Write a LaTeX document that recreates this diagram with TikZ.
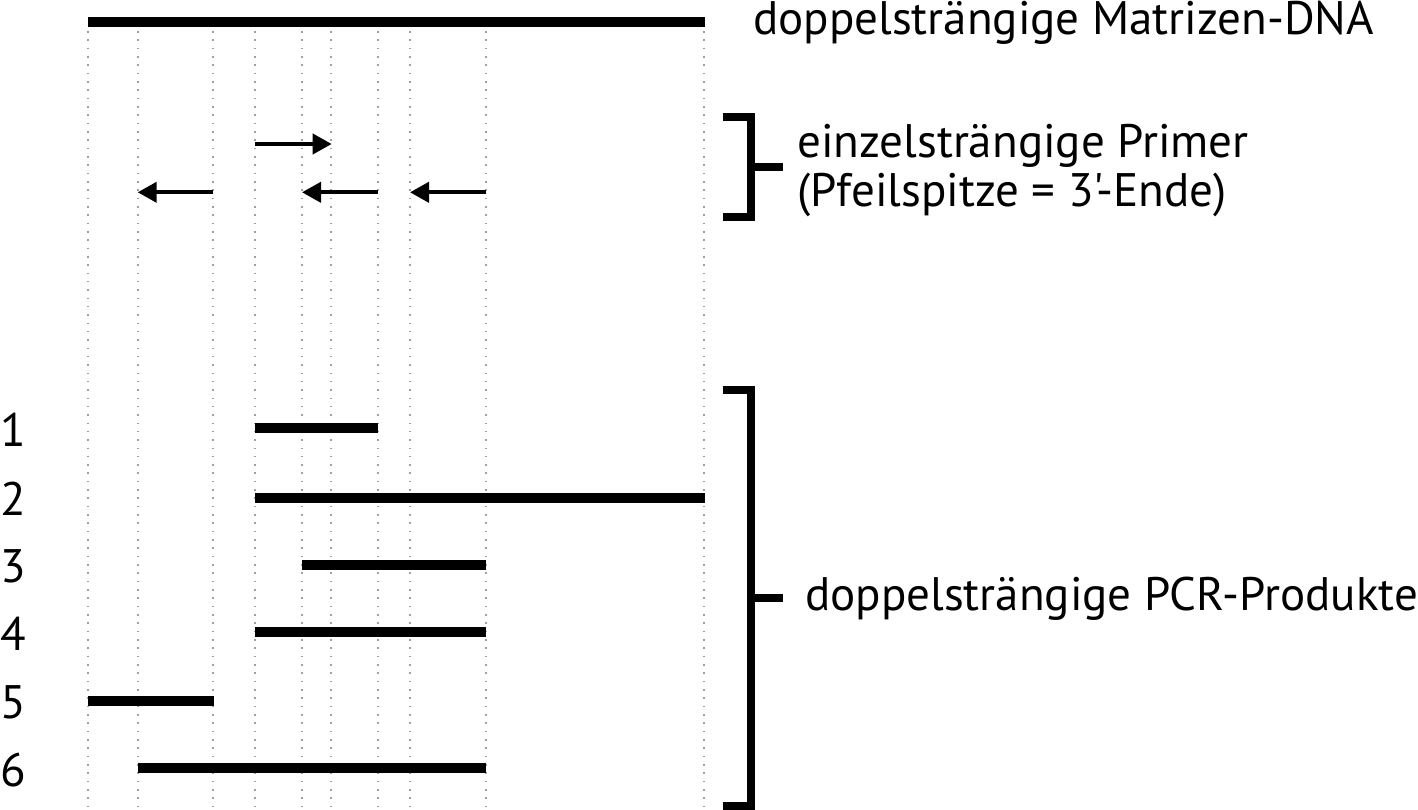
\documentclass[tikz,border=0pt]{standalone}
\usepackage{fontspec}
\setmainfont{PT Sans}
\newfontfamily\labelfont{PT Sans}
\usetikzlibrary{arrows.meta}
\begin{document}
\begin{tikzpicture}[x=1pt,y=-1pt,
  guide/.style={gray!75,line width=1.6pt,dash pattern=on 1.6pt off 6.73pt},
  bar/.style={line width=10pt,line cap=butt},
  primer/.style={line width=4pt,-{Triangle[length=19pt,width=20pt]}},
  bracket/.style={line width=8pt,line join=miter},
  lbl/.style={anchor=base west,inner sep=0pt,font=\labelfont\fontsize{47}{51}\selectfont},
  num/.style={anchor=base,inner sep=0pt,font=\labelfont\fontsize{47}{51}\selectfont}]
\useasboundingbox (0,0) rectangle (1418,810);
% guide lines
\foreach \x in {88,138,213,255,302,331,378,410,486,704}
  \draw[guide] (\x,31) -- (\x,810);
% template DNA
\coordinate (dnaL) at (88,21.7);
\coordinate (dnaR) at (705,21.7);
\draw[bar] (dnaL) -- (dnaR);
\node[lbl] (dnalabel) at (753,35) {doppelsträngige Matrizen-DNA};
% primers
\coordinate (f1s) at (255,144); \coordinate (f1e) at (331.7,144);
\coordinate (r1s) at (213.3,192.3); \coordinate (r1e) at (137.7,192.3);
\coordinate (r2s) at (377.7,192.3); \coordinate (r2e) at (302,192.3);
\coordinate (r3s) at (486.3,192.3); \coordinate (r3e) at (410,192.3);
\draw[primer] (f1s) -- (f1e);
\draw[primer] (r1s) -- (r1e);
\draw[primer] (r2s) -- (r2e);
\draw[primer] (r3s) -- (r3e);
% primer bracket
\coordinate (pb1) at (722.7,117); \coordinate (pb2) at (751,117);
\coordinate (pb3) at (751,217); \coordinate (pb4) at (722.7,217);
\coordinate (pbm) at (751,167); \coordinate (pbt) at (782.7,167);
\draw[bracket] (pb1) -- (pb2) -- (pb3) -- (pb4);
\draw[bracket] (pbm) -- (pbt);
\node[lbl] (primlabel1) at (797,158) {einzelsträngige Primer};
\node[lbl] (primlabel2) at (797,207) {(Pfeilspitze = 3'-Ende)};
% products
\foreach \n/\a/\b/\y/\by in {1/255/378/428.3/446.7,2/255/705/497.7/515,3/302/486/565/582,4/255/486/632.3/650,5/88/213.7/700.7/718,6/138/486/767.7/786.7}{
  \coordinate (p\n a) at (\a,\y);
  \coordinate (p\n b) at (\b,\y);
  \draw[bar] (p\n a) -- (p\n b);
  \node[num] (n\n) at (13,\by) {\n};
}
% product bracket
\coordinate (qb1) at (722.7,390); \coordinate (qb2) at (751.3,390);
\coordinate (qb3) at (751.3,805.5); \coordinate (qb4) at (722.7,805.5);
\coordinate (qbm) at (751.3,598); \coordinate (qbt) at (782.7,598);
\draw[bracket] (qb1) -- (qb2) -- (qb3) -- (qb4);
\draw[bracket] (qbm) -- (qbt);
\node[lbl] (pcrlabel) at (805,610) {doppelsträngige PCR-Produkte};
\end{tikzpicture}
\end{document}
